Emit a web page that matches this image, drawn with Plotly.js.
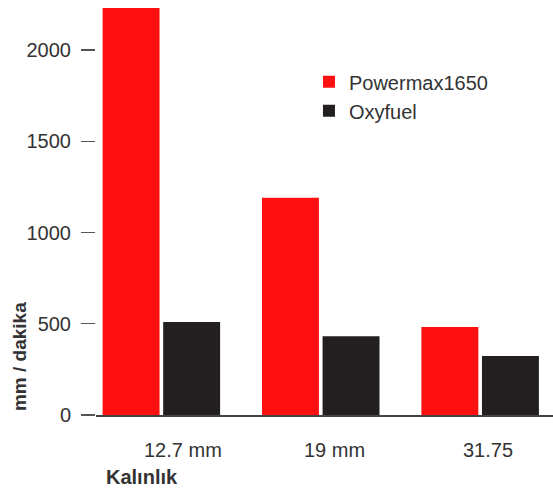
<!DOCTYPE html>
<html><head><meta charset="utf-8">
<script src="https://cdn.plot.ly/plotly-3.0.1.min.js"></script>
<style>html,body{margin:0;padding:0;background:#fff}#c{width:553px;height:494px}</style>
</head><body><div id="c"></div>
<script>
var categories = ['12.7 mm', '19 mm', '31.75'];
var powermax = [2230, 1190, 482];
var oxyfuel = [510, 432, 323];
var seriesNames = ['Powermax1650', 'Oxyfuel'];
var yTicks = [0, 500, 1000, 1500, 2000];
var font = 'Liberation Sans, Arial, sans-serif';
var txt = '#333';
var data = [
  {type:'bar', x:categories, y:powermax, name:seriesNames[0], marker:{color:'#fe1010'}, legendgroup:'a'},
  {type:'bar', x:categories, y:oxyfuel, name:seriesNames[1], marker:{color:'#231f20'}, legendgroup:'b'}
];
var ann = [
  {text:'<b>mm / dakika</b>', textangle:-90, xref:'paper', yref:'paper', x:-0.1685, y:0.142,
    xanchor:'center', yanchor:'middle',
    showarrow:false, font:{family:font, size:19, color:txt}},
  {text:'<b>Kalınlık</b>', xref:'paper', yref:'paper', x:(104-96)/457, xanchor:'left', y:-0.149, yanchor:'middle',
    showarrow:false, font:{family:font, size:20, color:txt}}
];
categories.forEach(function(c, i){
  ann.push({text:c, x:i, xref:'x', yref:'paper', y:-0.085, yanchor:'middle', xanchor:'left', xshift:-19,
    showarrow:false, font:{family:font, size:20, color:txt}});
});
var layout = {
  width:553, height:494,
  margin:{l:96, r:0, t:0, b:79},
  paper_bgcolor:'#fff', plot_bgcolor:'#fff',
  font:{family:font, size:20, color:txt},
  barmode:'group', bargap:0.24, bargroupgap:0.06,
  xaxis:{type:'category', range:[-0.41, 2.457], showgrid:false, zeroline:false,
    showline:true, linecolor:'#444', linewidth:1.5, ticks:'', showticklabels:false},
  yaxis:{range:[0, 2274], tickvals:yTicks, showgrid:false, zeroline:false, showline:false,
    ticks:'outside', ticklen:14, tickwidth:1.3, tickcolor:'#555', ticklabelstandoff:6,
    tickfont:{family:font, size:20, color:txt}},
  showlegend:true,
  legend:{x:0.466, y:0.85, xanchor:'left', yanchor:'top', bgcolor:'rgba(0,0,0,0)',
    font:{family:font, size:20, color:txt}, tracegroupgap:10, traceorder:'normal'},
  annotations:ann
};
Plotly.newPlot('c', data, layout, {displayModeBar:false, staticPlot:true});
</script></body></html>
